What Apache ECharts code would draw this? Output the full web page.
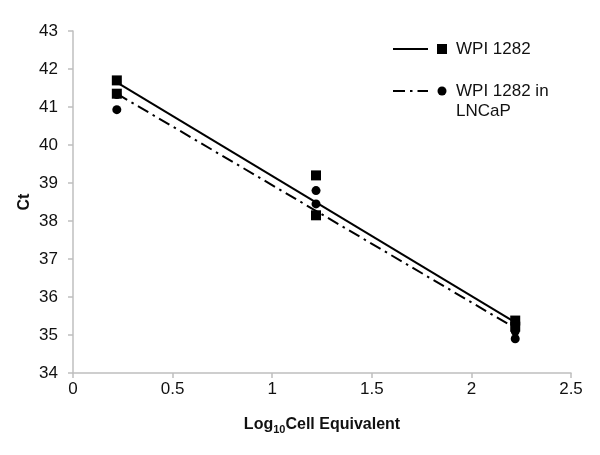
<!DOCTYPE html>
<html>
<head>
<meta charset="utf-8">
<script src="https://cdn.jsdelivr.net/npm/echarts@6/dist/echarts.min.js"></script>
<style>html,body{margin:0;padding:0;background:#fff}#c{width:600px;height:455px}</style>
</head>
<body>
<div id="c"></div>
<script>
// Data
const seriesNames = ['WPI 1282', 'WPI 1282 in LNCaP'];
const wpiX = [0.22, 0.22, 1.22, 1.22, 2.22, 2.22];
const wpiCt = [41.70, 41.35, 39.20, 38.15, 35.38, 35.22];
const lncapX = [0.22, 0.22, 1.22, 1.22, 2.22, 2.22];
const lncapCt = [41.33, 40.93, 38.80, 38.45, 35.10, 34.90];
const trendX = [0.22, 2.22];
const wpiTrend = [41.65, 35.33];
const lncapTrend = [41.35, 35.18];
const xTicks = [0, 0.5, 1, 1.5, 2, 2.5];
const yTicks = [34, 35, 36, 37, 38, 39, 40, 41, 42, 43];

const zip = (xs, ys) => xs.map((x, i) => [x, ys[i]]);
const font = 'Liberation Sans, Arial, sans-serif';
const txt = '#111';

const chart = echarts.init(document.getElementById('c'));
chart.setOption({
  animation: false,
  backgroundColor: '#fff',
  grid: { left: 73, right: 29, top: 31, bottom: 82 },
  xAxis: {
    type: 'value',
    min: xTicks[0], max: xTicks[xTicks.length - 1], interval: 0.5,
    name: '{b|Log}{s|10}{b|Cell Equivalent}',
    nameLocation: 'middle', nameGap: 41,
    nameTextStyle: {
      rich: {
        b: { fontFamily: font, fontSize: 16, fontWeight: 'bold', color: txt },
        s: { fontFamily: font, fontSize: 11, fontWeight: 'bold', color: txt, verticalAlign: 'bottom', padding: [10, 0, 0, 0] }
      }
    },
    axisLine: { lineStyle: { color: '#bfbfbf', width: 1.5 } },
    axisTick: { show: true, length: 5, lineStyle: { color: '#bfbfbf', width: 1.5 } },
    axisLabel: { fontFamily: font, fontSize: 17, color: txt, margin: 8, formatter: v => String(v) },
    splitLine: { show: false }
  },
  yAxis: {
    type: 'value',
    min: yTicks[0], max: yTicks[yTicks.length - 1], interval: 1,
    name: 'Ct', nameLocation: 'middle', nameGap: 40, nameMoveOverlap: false,
    nameTextStyle: { fontFamily: font, fontSize: 16, fontWeight: 'bold', color: txt },
    axisLine: { show: true, lineStyle: { color: '#bfbfbf', width: 1.5 } },
    axisTick: { show: true, length: 5, lineStyle: { color: '#bfbfbf', width: 1.5 } },
    axisLabel: { fontFamily: font, fontSize: 17, color: txt, margin: 15 },
    splitLine: { show: false }
  },
  series: [
    { name: seriesNames[0] + ' trend', type: 'line', data: zip(trendX, wpiTrend), symbol: 'none',
      lineStyle: { color: '#000', width: 2 }, z: 2 },
    { name: seriesNames[1] + ' trend', type: 'line', data: zip(trendX, lncapTrend), symbol: 'none',
      lineStyle: { color: '#000', width: 2, type: [12, 5, 2.5, 5] }, z: 2 },
    { name: seriesNames[0], type: 'scatter', data: zip(wpiX, wpiCt), symbol: 'rect', symbolSize: 10,
      itemStyle: { color: '#000', opacity: 1 }, z: 4 },
    { name: seriesNames[1], type: 'scatter', data: zip(lncapX, lncapCt), symbol: 'circle', symbolSize: 9,
      itemStyle: { color: '#000', opacity: 1 }, z: 3 }
  ],
  graphic: [
    { type: 'line', shape: { x1: 393, y1: 49, x2: 428, y2: 49 }, style: { stroke: '#000', lineWidth: 2 } },
    { type: 'rect', shape: { x: 437, y: 44, width: 10, height: 10 }, style: { fill: '#000' } },
    { type: 'text', x: 456, y: 49, style: { text: seriesNames[0], font: '17px ' + font, fill: txt, verticalAlign: 'middle' } },
    { type: 'line', shape: { x1: 393, y1: 91, x2: 428, y2: 91 }, style: { stroke: '#000', lineWidth: 2, lineDash: [12, 5, 2.5, 5] } },
    { type: 'circle', shape: { cx: 442, cy: 91, r: 4.5 }, style: { fill: '#000' } },
    { type: 'text', x: 456, y: 91, style: { text: 'WPI 1282 in', font: '17px ' + font, fill: txt, verticalAlign: 'middle' } },
    { type: 'text', x: 456, y: 111, style: { text: 'LNCaP', font: '17px ' + font, fill: txt, verticalAlign: 'middle' } }
  ]
});
</script>
</body>
</html>
